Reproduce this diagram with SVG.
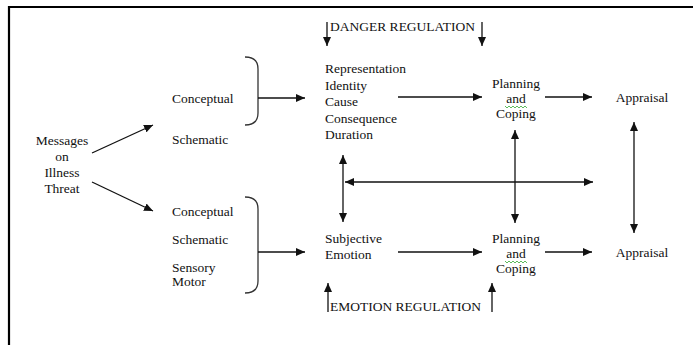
<svg xmlns="http://www.w3.org/2000/svg" width="693" height="345" viewBox="0 0 693 345">
<style>
.t{font-family:'Liberation Serif','DejaVu Serif',serif;font-size:13.5px;fill:#111}
.c{text-anchor:middle}
.ln{stroke:#111;stroke-width:1.3;fill:none}
.br{stroke:#333;stroke-width:1.3;fill:none}
.sq{stroke:#3a3;stroke-width:0.8;fill:none}
</style>
<defs>
<marker id="ah" markerUnits="userSpaceOnUse" markerWidth="10" markerHeight="8" refX="9" refY="4" orient="auto-start-reverse">
<path d="M0,0 L9,4 L0,8 z" fill="#111"/>
</marker>
</defs>
<rect x="0" y="0" width="693" height="345" fill="#fff"/>
<path d="M9,345 V7 H693" stroke="#000" stroke-width="2.2" fill="none"/>
<g class="t" font-family="Liberation Serif, DejaVu Serif, serif">
<g id="messages">
<text class="c" x="62" y="145">Messages</text>
<text class="c" x="62" y="161">on</text>
<text class="c" x="62" y="177">Illness</text>
<text class="c" x="62" y="193">Threat</text>
</g>
<g id="upper-inputs">
<text x="172" y="103">Conceptual</text>
<text x="172" y="144">Schematic</text>
<path class="br" d="M245,57 Q258,57 258,69 L258,113 Q258,125 245,125"/>
</g>
<g id="lower-inputs">
<text x="172" y="216">Conceptual</text>
<text x="172" y="244">Schematic</text>
<text x="172" y="272">Sensory</text>
<text x="172" y="286">Motor</text>
<path class="br" d="M245,197 Q258,197 258,209 L258,281 Q258,293 245,293"/>
</g>
<g id="representation">
<text x="325" y="73">Representation</text>
<text x="325" y="89.5">Identity</text>
<text x="325" y="106">Cause</text>
<text x="325" y="122.5">Consequence</text>
<text x="325" y="139">Duration</text>
</g>
<g id="subjective-emotion">
<text x="325" y="243">Subjective</text>
<text x="325" y="259">Emotion</text>
</g>
<g id="planning-upper">
<text class="c" x="516" y="88">Planning</text>
<text class="c" x="516" y="103">and</text>
<text class="c" x="516" y="118">Coping</text>
<path class="sq" d="M505,106 l2,2 l2,-2 l2,2 l2,-2 l2,2 l2,-2 l2,2 l2,-2 l2,2 l2,-2 l2,2"/>
</g>
<g id="planning-lower">
<text class="c" x="516" y="243">Planning</text>
<text class="c" x="516" y="258">and</text>
<text class="c" x="516" y="273">Coping</text>
<path class="sq" d="M505,261 l2,2 l2,-2 l2,2 l2,-2 l2,2 l2,-2 l2,2 l2,-2 l2,2 l2,-2 l2,2"/>
</g>
<g id="appraisal-upper"><text class="c" x="642" y="102">Appraisal</text></g>
<g id="appraisal-lower"><text class="c" x="642" y="257">Appraisal</text></g>
<g id="danger-regulation"><text x="330" y="31">DANGER REGULATION</text></g>
<g id="emotion-regulation"><text x="330" y="311">EMOTION REGULATION</text></g>
</g>
<g id="connectors">
<line class="ln" x1="92" y1="153" x2="153" y2="125" marker-end="url(#ah)"/>
<line class="ln" x1="92" y1="182" x2="153" y2="211" marker-end="url(#ah)"/>
<line class="ln" x1="258" y1="98" x2="305" y2="98" marker-end="url(#ah)"/>
<line class="ln" x1="258" y1="252" x2="305" y2="252" marker-end="url(#ah)"/>
<line class="ln" x1="398" y1="97" x2="482" y2="97" marker-end="url(#ah)"/>
<line class="ln" x1="545" y1="97" x2="592" y2="97" marker-end="url(#ah)"/>
<line class="ln" x1="398" y1="252" x2="482" y2="252" marker-end="url(#ah)"/>
<line class="ln" x1="545" y1="252" x2="592" y2="252" marker-end="url(#ah)"/>
<line class="ln" x1="343" y1="155" x2="343" y2="222" marker-start="url(#ah)" marker-end="url(#ah)"/>
<line class="ln" x1="345" y1="182" x2="593" y2="182" marker-start="url(#ah)" marker-end="url(#ah)"/>
<line class="ln" x1="515" y1="130" x2="515" y2="223" marker-start="url(#ah)" marker-end="url(#ah)"/>
<line class="ln" x1="634" y1="122" x2="634" y2="233" marker-start="url(#ah)" marker-end="url(#ah)"/>
<line class="ln" x1="327" y1="22" x2="327" y2="46" marker-end="url(#ah)"/>
<line class="ln" x1="482" y1="22" x2="482" y2="46" marker-end="url(#ah)"/>
<line class="ln" x1="328" y1="312" x2="328" y2="283" marker-end="url(#ah)"/>
<line class="ln" x1="492" y1="312" x2="492" y2="283" marker-end="url(#ah)"/>
</g>
</svg>
